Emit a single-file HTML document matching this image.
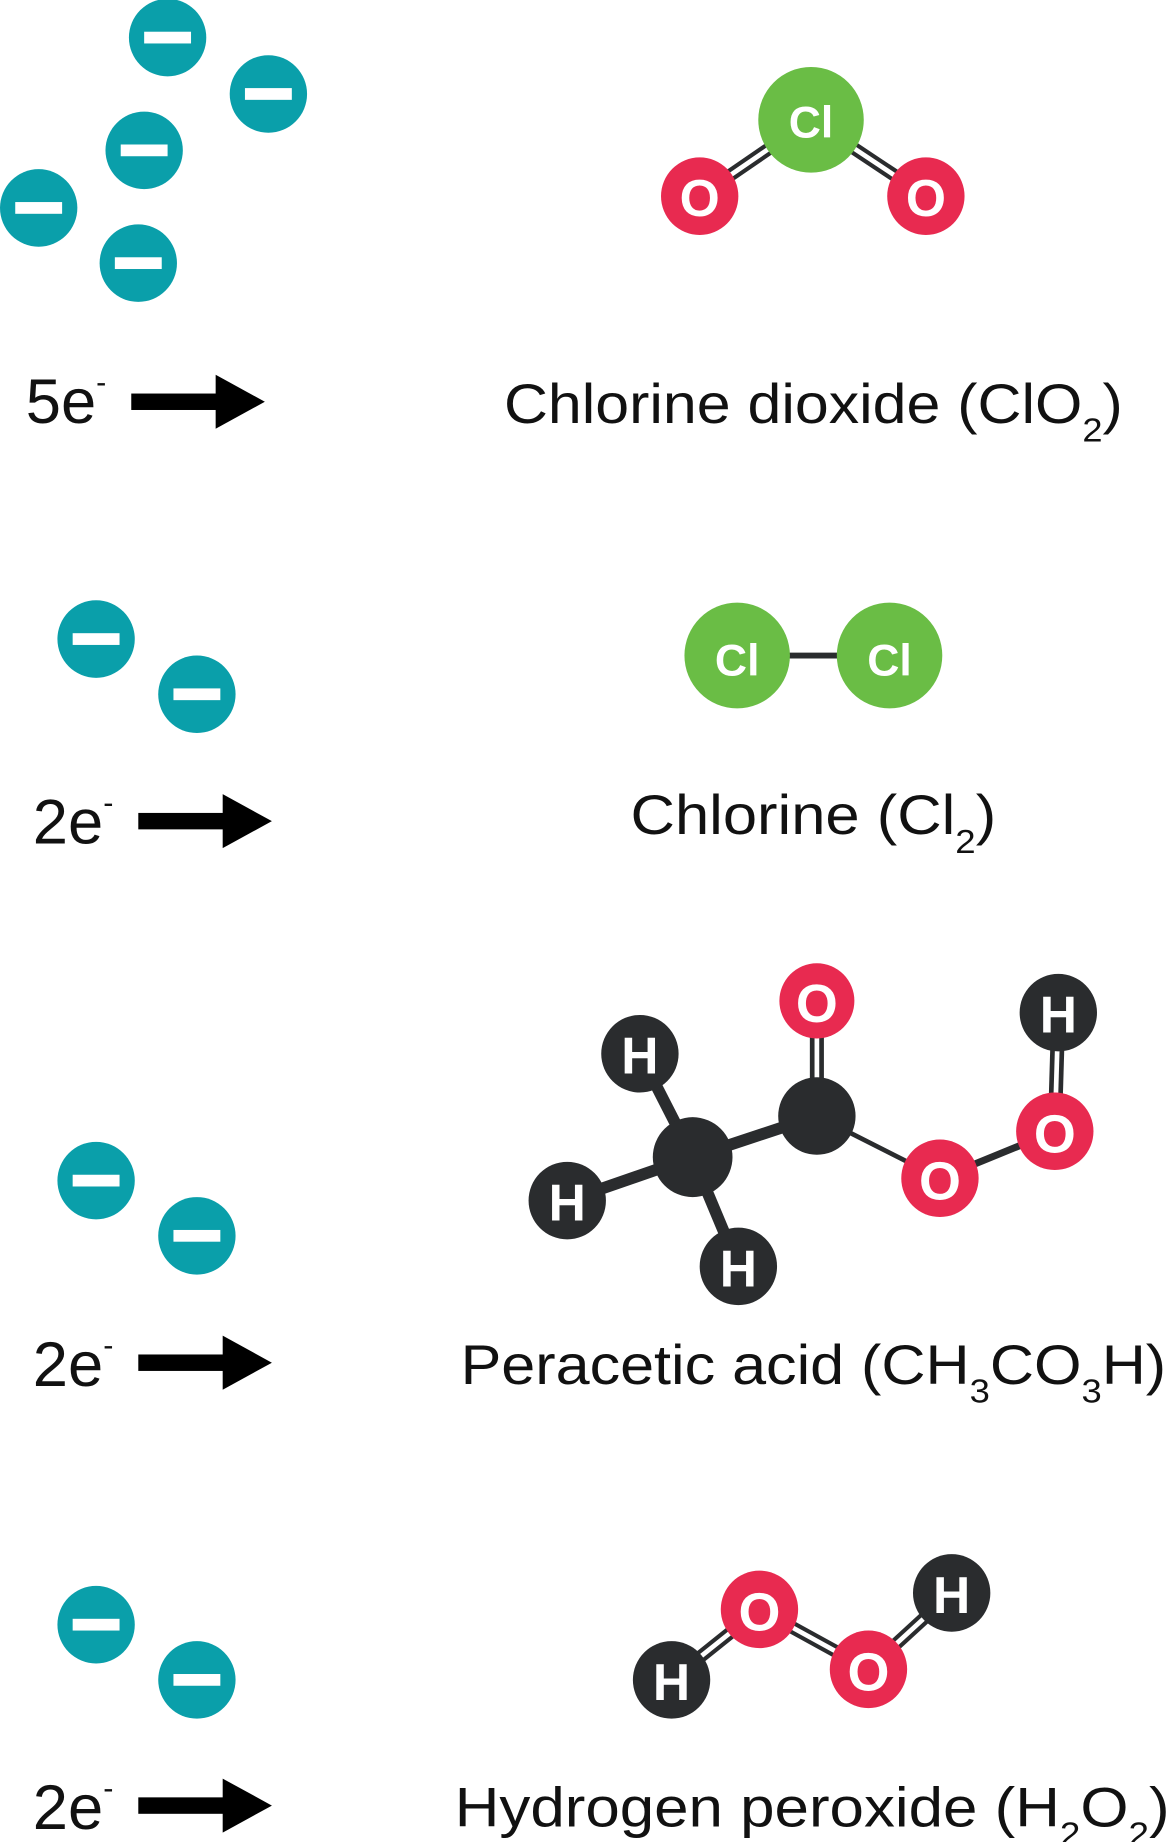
<!DOCTYPE html>
<html><head><meta charset="utf-8"><style>
html,body{margin:0;padding:0;background:#fff;width:1172px;height:1842px;overflow:hidden}
svg{display:block}
.l{font-family:"Liberation Sans",sans-serif;fill:#111}
.a{font-family:"Liberation Sans",sans-serif;font-weight:bold;fill:#fff;text-anchor:middle}
</style></head><body>
<svg width="1172" height="1842" viewBox="0 0 1000 1568" preserveAspectRatio="none">
<defs>
<g id="e"><circle r="33" fill="#0a9faa"/><rect x="-20" y="-5" width="40" height="10" fill="#fff"/></g>
<g id="arr"><rect x="0" y="-7" width="75" height="14" fill="#000"/><polygon points="72,-23 114,0 72,23" fill="#000"/></g>
</defs>
<!-- group1 -->
<use href="#e" x="143" y="32"/><use href="#e" x="229" y="80"/><use href="#e" x="123" y="128"/><use href="#e" x="33" y="177"/><use href="#e" x="118" y="224"/>
<text class="l" x="22" y="360" font-size="54">5e<tspan font-size="26" dy="-26">-</tspan></text>
<use href="#arr" x="112" y="342"/>
<line x1="597" y1="167" x2="692" y2="102" stroke="#2a2c2e" stroke-width="11"/>
<line x1="597" y1="167" x2="692" y2="102" stroke="#fff" stroke-width="4"/>
<line x1="790" y1="167" x2="692" y2="102" stroke="#2a2c2e" stroke-width="11"/>
<line x1="790" y1="167" x2="692" y2="102" stroke="#fff" stroke-width="4"/>
<circle cx="692" cy="102" r="45" fill="#6abd45"/><text class="a" x="692" y="117" font-size="38" font-weight="normal">Cl</text>
<circle cx="597" cy="167" r="33" fill="#e82a50"/><text class="a" x="597" y="184" font-size="44">O</text>
<circle cx="790" cy="167" r="33" fill="#e82a50"/><text class="a" x="790" y="184" font-size="44">O</text>
<text class="l" x="430" y="360" font-size="47" textLength="528" lengthAdjust="spacingAndGlyphs">Chlorine dioxide (ClO<tspan font-size="28" dy="16">2</tspan><tspan dy="-16">)</tspan></text>
<!-- group2 -->
<use href="#e" x="82" y="544"/><use href="#e" x="168" y="591"/>
<text class="l" x="28" y="718" font-size="54">2e<tspan font-size="26" dy="-26">-</tspan></text>
<use href="#arr" x="118" y="699"/>
<line x1="629" y1="558" x2="759" y2="558" stroke="#2a2c2e" stroke-width="5"/>
<circle cx="629" cy="558" r="45" fill="#6abd45"/><text class="a" x="629" y="575" font-size="38" font-weight="normal">Cl</text>
<circle cx="759" cy="558" r="45" fill="#6abd45"/><text class="a" x="759" y="575" font-size="38" font-weight="normal">Cl</text>
<text class="l" x="538" y="710" font-size="47" textLength="312" lengthAdjust="spacingAndGlyphs">Chlorine (Cl<tspan font-size="28" dy="16">2</tspan><tspan dy="-16">)</tspan></text>
<!-- group3 -->
<use href="#e" x="82" y="1005"/><use href="#e" x="168" y="1052"/>
<text class="l" x="28" y="1180" font-size="54">2e<tspan font-size="26" dy="-26">-</tspan></text>
<use href="#arr" x="118" y="1160"/>
<g stroke="#2a2c2e" stroke-width="10">
<line x1="591" y1="985" x2="546" y2="897"/><line x1="591" y1="985" x2="484" y2="1022"/><line x1="591" y1="985" x2="630" y2="1078"/><line x1="591" y1="985" x2="697" y2="950"/>
</g>
<line x1="697" y1="950" x2="697" y2="852" stroke="#2a2c2e" stroke-width="12"/><line x1="697" y1="950" x2="697" y2="852" stroke="#fff" stroke-width="4"/>
<line x1="900" y1="963" x2="903" y2="862" stroke="#2a2c2e" stroke-width="12"/><line x1="900" y1="963" x2="903" y2="862" stroke="#fff" stroke-width="4"/>
<line x1="697" y1="950" x2="802" y2="1003" stroke="#2a2c2e" stroke-width="4"/>
<line x1="802" y1="1003" x2="900" y2="963" stroke="#2a2c2e" stroke-width="6"/>
<circle cx="697" cy="852" r="32" fill="#e82a50"/><text class="a" x="697" y="870" font-size="46">O</text>
<circle cx="903" cy="862" r="33" fill="#2a2c2e"/><text class="a" x="903" y="879" font-size="44">H</text>
<circle cx="546" cy="897" r="33" fill="#2a2c2e"/><text class="a" x="546" y="914" font-size="44">H</text>
<circle cx="484" cy="1022" r="33" fill="#2a2c2e"/><text class="a" x="484" y="1039" font-size="44">H</text>
<circle cx="630" cy="1078" r="33" fill="#2a2c2e"/><text class="a" x="630" y="1095" font-size="44">H</text>
<circle cx="591" cy="985" r="34" fill="#2a2c2e"/>
<circle cx="697" cy="950" r="33" fill="#2a2c2e"/>
<circle cx="802" cy="1003" r="33" fill="#e82a50"/><text class="a" x="802" y="1021" font-size="46">O</text>
<circle cx="900" cy="963" r="33" fill="#e82a50"/><text class="a" x="900" y="981" font-size="46">O</text>
<text class="l" x="393" y="1178" font-size="47" textLength="602" lengthAdjust="spacingAndGlyphs">Peracetic acid (CH<tspan font-size="28" dy="16">3</tspan><tspan dy="-16">CO</tspan><tspan font-size="28" dy="16">3</tspan><tspan dy="-16">H)</tspan></text>
<!-- group4 -->
<use href="#e" x="82" y="1383"/><use href="#e" x="168" y="1430"/>
<text class="l" x="28" y="1557" font-size="54">2e<tspan font-size="26" dy="-26">-</tspan></text>
<use href="#arr" x="118" y="1537"/>
<g stroke="#2a2c2e" stroke-width="11">
<line x1="573" y1="1430" x2="648" y2="1370"/><line x1="648" y1="1370" x2="741" y2="1421"/><line x1="741" y1="1421" x2="812" y2="1356"/>
</g>
<g stroke="#fff" stroke-width="4">
<line x1="573" y1="1430" x2="648" y2="1370"/><line x1="648" y1="1370" x2="741" y2="1421"/><line x1="741" y1="1421" x2="812" y2="1356"/>
</g>
<circle cx="573" cy="1430" r="33" fill="#2a2c2e"/><text class="a" x="573" y="1447" font-size="44">H</text>
<circle cx="812" cy="1356" r="33" fill="#2a2c2e"/><text class="a" x="812" y="1373" font-size="44">H</text>
<circle cx="648" cy="1370" r="33" fill="#e82a50"/><text class="a" x="648" y="1388" font-size="46">O</text>
<circle cx="741" cy="1421" r="33" fill="#e82a50"/><text class="a" x="741" y="1439" font-size="46">O</text>
<text class="l" x="388" y="1555" font-size="47" textLength="610" lengthAdjust="spacingAndGlyphs">Hydrogen peroxide (H<tspan font-size="28" dy="16">2</tspan><tspan dy="-16">O</tspan><tspan font-size="28" dy="16">2</tspan><tspan dy="-16">)</tspan></text>
</svg>
</body></html>
